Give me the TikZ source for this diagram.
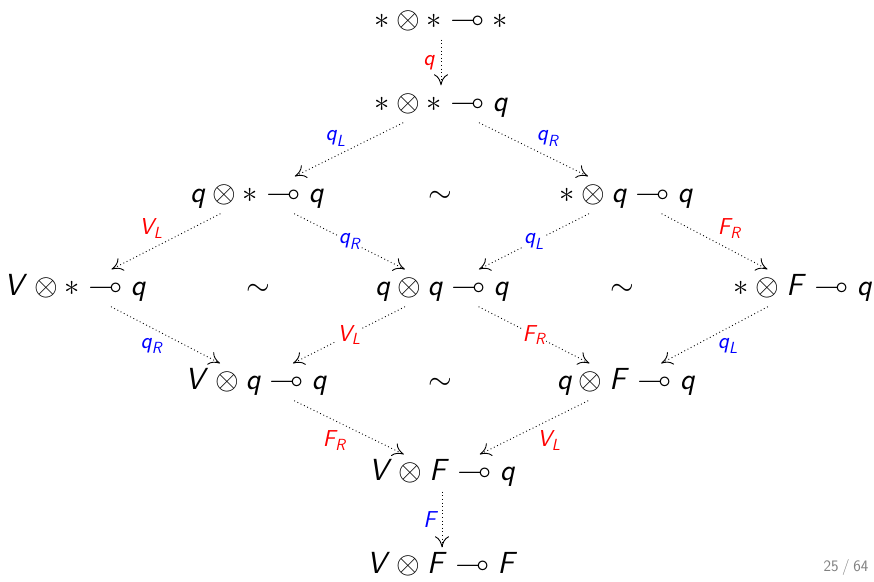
\RequirePackage{fix-cm}
\documentclass[tikz,border=0pt]{standalone}
\usepackage{amsmath,amssymb}
\DeclareFontFamily{U}{msa}{}
\DeclareFontShape{U}{msa}{m}{n}{<-6>msam5<6-8>msam7<8->msam10}{}
\usetikzlibrary{arrows.meta}
\newcommand\fs[1]{\textsf{\slshape #1\/}}
\newcommand\fl[1]{\textsf{\slshape #1}}
\tikzset{
  obj/.style={inner sep=3pt, text height=23.25pt, text depth=7.75pt, font=\fontsize{30.5}{37}\selectfont},
  mor/.style={line width=0.9pt, dash pattern=on 0.9pt off 2.7pt, -{To[length=11pt,width=14pt]}},
  lbl/.style={font=\fontsize{23}{27}\selectfont, inner sep=3pt},
  onl/.style={lbl, fill=white, inner sep=1pt},
  rd/.style={text=red},
  bl/.style={text=blue},
}
\begin{document}
\begin{tikzpicture}[x=1pt,y=-1pt]
\useasboundingbox (0,0) rectangle (874,581);
\node[obj] (n1)  at (441,21)  {$\ast\otimes\ast\multimap\ast$};
\node[obj] (n2)  at (441,104) {$\ast\otimes\ast\multimap\fs{q}$};
\node[obj] (n3L) at (257,195) {$\fs{q}\otimes\ast\multimap\fs{q}$};
\node[obj] (n3R) at (626,195) {$\ast\otimes\fs{q}\multimap\fs{q}$};
\node[obj] (n4L) at (75,288)  {$\fs{V}\otimes\ast\multimap\fs{q}$};
\node[obj] (n4M) at (442,288) {$\fs{q}\otimes\fs{q}\multimap\fs{q}$};
\node[obj] (n4R) at (803,288) {$\ast\otimes\fs{F}\multimap\fs{q}$};
\node[obj] (n5L) at (256,382) {$\fs{V}\otimes\fs{q}\multimap\fs{q}$};
\node[obj] (n5R) at (626,382) {$\fs{q}\otimes\fs{F}\multimap\fs{q}$};
\node[obj] (n6)  at (442,473) {$\fs{V}\otimes\fs{F}\multimap\fs{q}$};
\node[obj] (n7)  at (442,566) {$\fs{V}\otimes\fs{F}\multimap\fs{F}$};
\node[obj] (t1) at (440,195) {$\sim$};
\node[obj] (t2) at (258,288) {$\sim$};
\node[obj] (t3) at (622,288) {$\sim$};
\node[obj] (t4) at (440,382) {$\sim$};
\draw[mor] (n1) -- node[lbl,rd,left,xshift=-3pt] {$\fl{q}$} (n2);
\draw[mor] (n2) -- node[lbl,bl,above left] {$\fl{q}_{\fl{L}}$} (n3L);
\draw[mor] (n2) -- node[lbl,bl,above right] {$\fl{q}_{\fl{R}}$} (n3R);
\draw[mor] (n3L) -- node[lbl,rd,above left] {$\fl{V}_{\fl{L}}$} (n4L);
\draw[mor] (n3L) -- node[onl,bl] {$\fl{q}_{\fl{R}}$} (n4M);
\draw[mor] (n3R) -- node[onl,bl] {$\fl{q}_{\fl{L}}$} (n4M);
\draw[mor] (n3R) -- node[lbl,rd,above right] {$\fl{F}_{\fl{R}}$} (n4R);
\draw[mor] (n4L) -- node[lbl,bl,below left] {$\fl{q}_{\fl{R}}$} (n5L);
\draw[mor] (n4M) -- node[onl,rd] {$\fl{V}_{\fl{L}}$} (n5L);
\draw[mor] (n4M) -- node[onl,rd] {$\fl{F}_{\fl{R}}$} (n5R);
\draw[mor] (n4R) -- node[lbl,bl,below right] {$\fl{q}_{\fl{L}}$} (n5R);
\draw[mor] (n5L) -- node[lbl,rd,below left] {$\fl{F}_{\fl{R}}$} (n6);
\draw[mor] (n5R) -- node[lbl,rd,below right] {$\fl{V}_{\fl{L}}$} (n6);
\draw[mor] (n6) -- node[lbl,bl,left,xshift=-3pt] {$\fl{F}$} (n7);
\node[font=\fontsize{16}{18}\sffamily\selectfont, text=gray] (pg) at (846,567) {25\hspace{3.5pt}/\hspace{3.5pt}64};
\end{tikzpicture}
\end{document}
